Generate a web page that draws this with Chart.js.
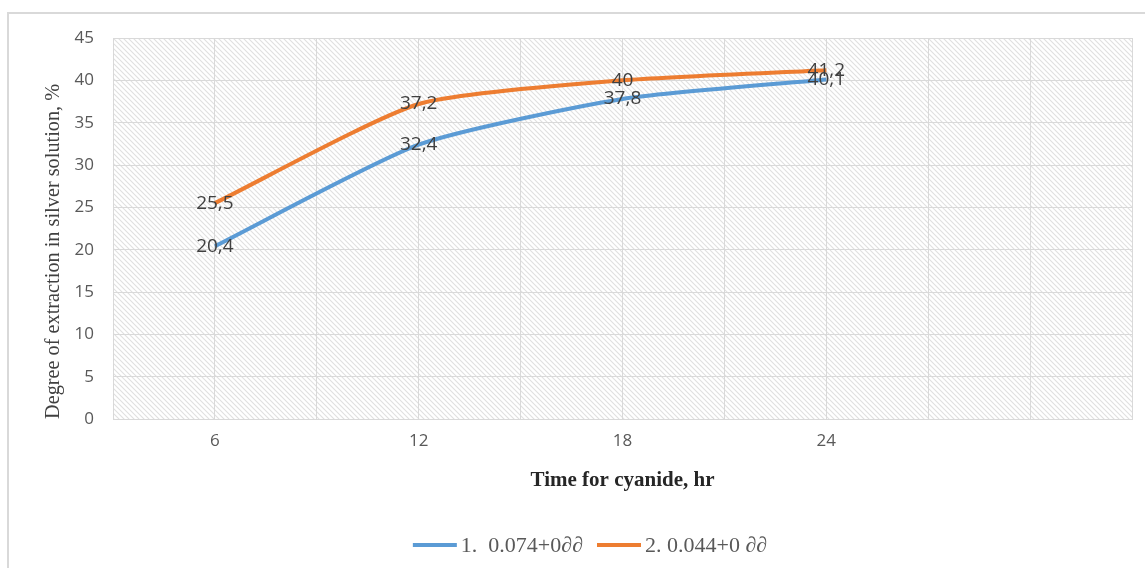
<!DOCTYPE html>
<html>
<head>
<meta charset="utf-8">
<script src="https://cdn.jsdelivr.net/npm/chart.js@4"></script>
<style>
html,body{margin:0;padding:0;background:#fff;overflow:hidden}
#wrap{position:relative;width:1145px;height:568px}
#frame{position:absolute;left:7px;top:12px;width:1160px;height:580px;border:2px solid #d9d9d9;box-sizing:border-box}
#chart{position:absolute;left:0;top:0}
</style>
</head>
<body>
<div id="wrap">
  <div id="frame"></div>
  <canvas id="chart" width="1145" height="568"></canvas>
</div>
<script>
const hours=[6,12,18,24];
const series1=[20.4,32.4,37.8,40.1];
const series2=[25.5,37.2,40,41.2];
const label1='1.  0.074+0∂∂';
const label2='2. 0.044+0 ∂∂';
const xTickLabels=[6,12,18,24];

const C={blue:'#5B9BD5',orange:'#ED7D31',grid:'#d9d9d9',tick:'#595959',text:'#404040',hatch:'#e0e0e0'};

// diagonal hatch tile for the plot background
function hatchPattern(ctx){
  const s=5,tile=document.createElement('canvas');
  tile.width=s;tile.height=s;
  const t=tile.getContext('2d');
  t.strokeStyle=C.hatch;t.lineWidth=1.1;
  t.beginPath();
  t.moveTo(-1,-1);t.lineTo(s+1,s+1);
  t.moveTo(-1,s-1);t.lineTo(1,s+1);
  t.moveTo(s-1,-1);t.lineTo(s+1,1);
  t.stroke();
  return ctx.createPattern(tile,'repeat');
}

const plotBg={
  id:'plotBg',
  beforeDraw(chart){
    const {ctx,chartArea:a}=chart;
    ctx.save();
    ctx.fillStyle=hatchPattern(ctx);
    ctx.fillRect(a.left,a.top,a.right-a.left,a.bottom-a.top);
    ctx.restore();
  }
};

const valueLabels={
  id:'valueLabels',
  afterDatasetsDraw(chart){
    const ctx=chart.ctx;
    ctx.save();
    ctx.font='19px "Open Sans"';
    ctx.fillStyle=C.text;
    ctx.textAlign='center';
    ctx.textBaseline='middle';
    chart.data.datasets.forEach((ds,i)=>{
      chart.getDatasetMeta(i).data.forEach((pt,j)=>{
        ctx.fillText(String(ds.data[j].y).replace('.',','),pt.x,pt.y);
      });
    });
    ctx.restore();
  }
};

// legend row under the x axis title: line swatch + serif label per series
const lineLegend={
  id:'lineLegend',
  afterDraw(chart){
    const ctx=chart.ctx,sw=44,gap=4,sep=14,cx=590,cy=545;
    ctx.save();
    ctx.font='22px "Liberation Serif"';
    ctx.textBaseline='middle';
    const items=chart.data.datasets.map(ds=>({ds,w:ctx.measureText(ds.label).width}));
    const total=items.reduce((s,it)=>s+sw+gap+it.w,0)+sep*(items.length-1);
    let x=cx-total/2;
    items.forEach(({ds,w})=>{
      ctx.strokeStyle=ds.borderColor;ctx.lineWidth=4;
      ctx.beginPath();ctx.moveTo(x,cy);ctx.lineTo(x+sw,cy);ctx.stroke();
      ctx.fillStyle=C.tick;
      ctx.fillText(ds.label,x+sw+gap,cy+1);
      x+=sw+gap+w+sep;
    });
    ctx.restore();
  }
};

function line(label,values,color){
  return{label,data:values.map((v,i)=>({x:hours[i],y:v})),
    borderColor:color,backgroundColor:color,borderWidth:4,
    pointRadius:0,tension:0.2,fill:false};
}

new Chart(document.getElementById('chart'),{
  type:'line',
  data:{datasets:[line(label1,series1,C.blue),line(label2,series2,C.orange)]},
  options:{
    responsive:false,animation:false,
    layout:{padding:{left:40,right:13,top:38,bottom:54}},
    plugins:{legend:{display:false},tooltip:{enabled:false}},
    scales:{
      x:{type:'linear',min:3,max:33,
        afterFit:s=>{s.height=95;},
        ticks:{stepSize:3,autoSkip:false,maxRotation:0,padding:12,color:C.tick,
          font:{family:'"Open Sans"',size:17},
          callback:v=>xTickLabels.includes(v)?String(v):''},
        grid:{color:C.grid,drawTicks:false},
        border:{color:C.grid},
        title:{display:true,text:'Time for cyanide, hr',color:'#262626',
          font:{family:'"Liberation Serif"',size:21,weight:'bold'},padding:{top:0,bottom:21}}
      },
      y:{min:0,max:45,
        afterFit:s=>{s.width=73;},
        ticks:{stepSize:5,padding:19,color:C.tick,font:{family:'"Open Sans"',size:17}},
        grid:{color:C.grid,drawTicks:false},
        border:{color:C.grid},
        title:{display:true,align:'start',text:'Degree of extraction in silver solution, %',color:C.text,
          font:{family:'"Liberation Serif"',size:20.3},padding:{top:1,bottom:0}}
      }
    }
  },
  plugins:[plotBg,valueLabels,lineLegend]
});
</script>
</body>
</html>
